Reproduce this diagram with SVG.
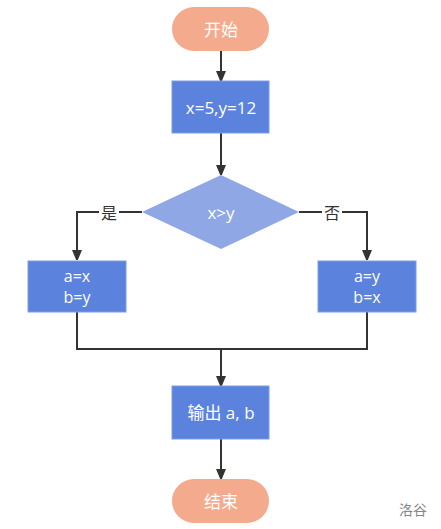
<svg xmlns="http://www.w3.org/2000/svg" width="441" height="529" viewBox="0 0 441 529">
<defs>
<marker id="arr" markerWidth="10" markerHeight="12" refX="10" refY="5" orient="auto" markerUnits="userSpaceOnUse">
<path d="M0,0 L12,5 L0,10 Z" fill="#333"/>
</marker>
<style>
.term{fill:#F4AB8D;}
.proc{fill:#5B83DE;stroke:#7D9DE6;stroke-width:1;}
.dec{fill:#8FA7E4;}
.t{font-family:"Open Sans","Noto Sans CJK SC",sans-serif;font-size:17px;fill:#fff;text-anchor:middle;dominant-baseline:central;}
.t2{font-family:"Open Sans",sans-serif;font-size:16px;fill:#fff;text-anchor:middle;dominant-baseline:central;}
.lbl{font-family:"Noto Sans CJK SC",sans-serif;font-size:16px;fill:#333;text-anchor:middle;dominant-baseline:central;}
.ln{fill:none;stroke:#333;stroke-width:2;}
</style>
</defs>
<rect width="441" height="529" fill="#fff"/>
<g id="connectors">
<line class="ln" x1="221" y1="51" x2="221" y2="81" marker-end="url(#arr)"/>
<line class="ln" x1="221" y1="133" x2="221" y2="175" marker-end="url(#arr)"/>
<polyline class="ln" points="142,212 77,212 77,260" marker-end="url(#arr)"/>
<polyline class="ln" points="299,212 367,212 367,260" marker-end="url(#arr)"/>
<polyline class="ln" points="77,312 77,349 367,349 367,312"/>
<line class="ln" x1="221" y1="349" x2="221" y2="386" marker-end="url(#arr)"/>
<line class="ln" x1="221" y1="439" x2="221" y2="479" marker-end="url(#arr)"/>
<rect x="99" y="202" width="20" height="20" fill="#fff"/>
<text class="lbl" x="109" y="212">是</text>
<rect x="322" y="202" width="20" height="20" fill="#fff"/>
<text class="lbl" x="332" y="212">否</text>
</g>
<g id="start">
<rect class="term" x="172" y="7" width="97" height="44" rx="22"/>
<text class="t" x="221" y="29">开始</text>
</g>
<g id="init">
<rect class="proc" x="172" y="81" width="97" height="52"/>
<text class="t" x="221" y="107">x=5,y=12</text>
</g>
<g id="cond">
<polygon class="dec" points="221,175 299,212 221,249 142,212"/>
<text class="t" x="221" y="212">x&gt;y</text>
</g>
<g id="yes">
<rect class="proc" x="28" y="261" width="98" height="51"/>
<text class="t2" x="77" y="276">a=x</text>
<text class="t2" x="77" y="297">b=y</text>
</g>
<g id="no">
<rect class="proc" x="318" y="261" width="98" height="51"/>
<text class="t2" x="367" y="276">a=y</text>
<text class="t2" x="367" y="297">b=x</text>
</g>
<g id="output">
<rect class="proc" x="172" y="386" width="97" height="53"/>
<text class="t" x="221" y="412">输出 a, b</text>
</g>
<g id="end">
<rect class="term" x="172" y="479" width="97" height="44" rx="22"/>
<text class="t" x="221" y="501">结束</text>
</g>
<text x="413" y="509" font-family="Noto Sans CJK SC,sans-serif" font-size="14" fill="#888" text-anchor="middle" dominant-baseline="central">洛谷</text>
</svg>
